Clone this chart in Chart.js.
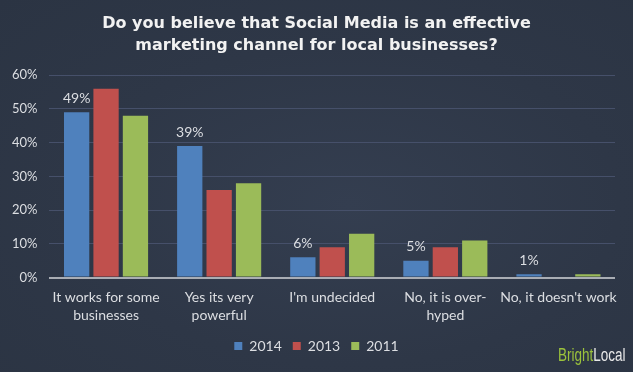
<!DOCTYPE html>
<html>
<head>
<meta charset="utf-8">
<script src="https://cdn.jsdelivr.net/npm/chart.js@4/dist/chart.umd.min.js"></script>
<style>
    html, body {
        margin: 0;
        padding: 0;
    }
    body {
        width: 633px;
        height: 372px;
        background: radial-gradient(ellipse at 55% 55%, #343e50 0%, #2e3747 55%, #2b3443 100%);
        position: relative;
        overflow: hidden;
    }
    #wrap {
        position: absolute;
        left: 0;
        top: 0;
        width: 633px;
        height: 372px;
    }
    #logo {
        position: absolute;
        left: 558px;
        top: 345px;
        font-family: "Liberation Sans", sans-serif;
        font-size: 18px;
        white-space: nowrap;
        transform: scaleX(0.75);
        transform-origin: left top;
    }
    #logo .bright { color: #9bc23c; }
    #logo .local { color: #e8e8e8; }
</style>
</head>
<body>
<div id="wrap"><canvas id="surveyChart" width="633" height="372"></canvas></div>
<div id="logo"><span class="bright">Bright</span><span class="local">Local</span></div>

<script>
// Survey data
const categories = [
    ['It works for some', 'businesses'],
    ['Yes its very', 'powerful'],
    ["I'm undecided"],
    ['No, it is over-', 'hyped'],
    ["No, it doesn't work"]
];
const years = ['2014', '2013', '2011'];
const values2014 = [49, 39, 6, 5, 1];
const values2013 = [56, 26, 9, 9, 0];
const values2011 = [48, 28, 13, 11, 1];
const seriesColors = ['#4f81bd', '#c0504d', '#9bbb59'];

const textColor = '#dcdee2';
const labelFont = 'Lato, "Open Sans", sans-serif';

// Percent labels above the 2014 bars only
const topLabels = {
    id: 'topLabels',
    afterDatasetsDraw(chart) {
        const ctx = chart.ctx;
        const meta = chart.getDatasetMeta(0);
        ctx.save();
        ctx.fillStyle = textColor;
        ctx.font = '14px ' + labelFont;
        ctx.textAlign = 'center';
        ctx.textBaseline = 'bottom';
        meta.data.forEach((bar, i) => {
            ctx.fillText(values2014[i] + '%', bar.x, bar.y - 7);
        });
        ctx.restore();
    }
};

const allSeries = [values2014, values2013, values2011];

new Chart(document.getElementById('surveyChart'), {
    type: 'bar',
    data: {
        labels: categories,
        datasets: years.map((year, i) => ({
            label: year,
            data: allSeries[i],
            backgroundColor: seriesColors[i],
            borderWidth: 0,
            categoryPercentage: 0.78,
            barPercentage: 0.86
        }))
    },
    options: {
        responsive: false,
        animation: false,
        layout: {
            padding: { left: 0, right: 0, top: 4, bottom: 9 }
        },
        plugins: {
            title: {
                display: true,
                text: ['Do you believe that Social Media is an effective', 'marketing channel for local businesses?'],
                color: '#f2f2f2',
                font: { family: '"DejaVu Sans", sans-serif', size: 16, weight: 'bold', lineHeight: 1.35 },
                padding: { top: 9, bottom: 19 }
            },
            legend: {
                display: true,
                position: 'bottom',
                labels: {
                    color: textColor,
                    font: { family: labelFont, size: 14 },
                    boxWidth: 8,
                    boxHeight: 8,
                    padding: 11
                }
            },
            tooltip: { enabled: false }
        },
        scales: {
            y: {
                min: 0,
                max: 60,
                ticks: {
                    stepSize: 10,
                    color: textColor,
                    font: { family: labelFont, size: 13 },
                    padding: 12,
                    callback: value => value + '%'
                },
                grid: {
                    color: ctx => ctx.tick.value === 0 ? '#a9adb4' : '#46506a',
                    lineWidth: ctx => ctx.tick.value === 0 ? 2 : 1,
                    drawTicks: false
                },
                border: { display: false }
            },
            // empty spacer on the right so the plot ends where the reference does
            spacer: {
                type: 'linear',
                position: 'right',
                display: true,
                ticks: { display: false },
                grid: { display: false },
                border: { display: false },
                afterFit: scale => { scale.width = 18; }
            },
            x: {
                ticks: {
                    color: textColor,
                    font: { family: labelFont, size: 14, lineHeight: 1.3 },
                    padding: 3,
                    maxRotation: 0,
                    autoSkip: false
                },
                grid: { display: false },
                border: { display: false }
            }
        }
    },
    plugins: [topLabels]
});
</script>
</body>
</html>
